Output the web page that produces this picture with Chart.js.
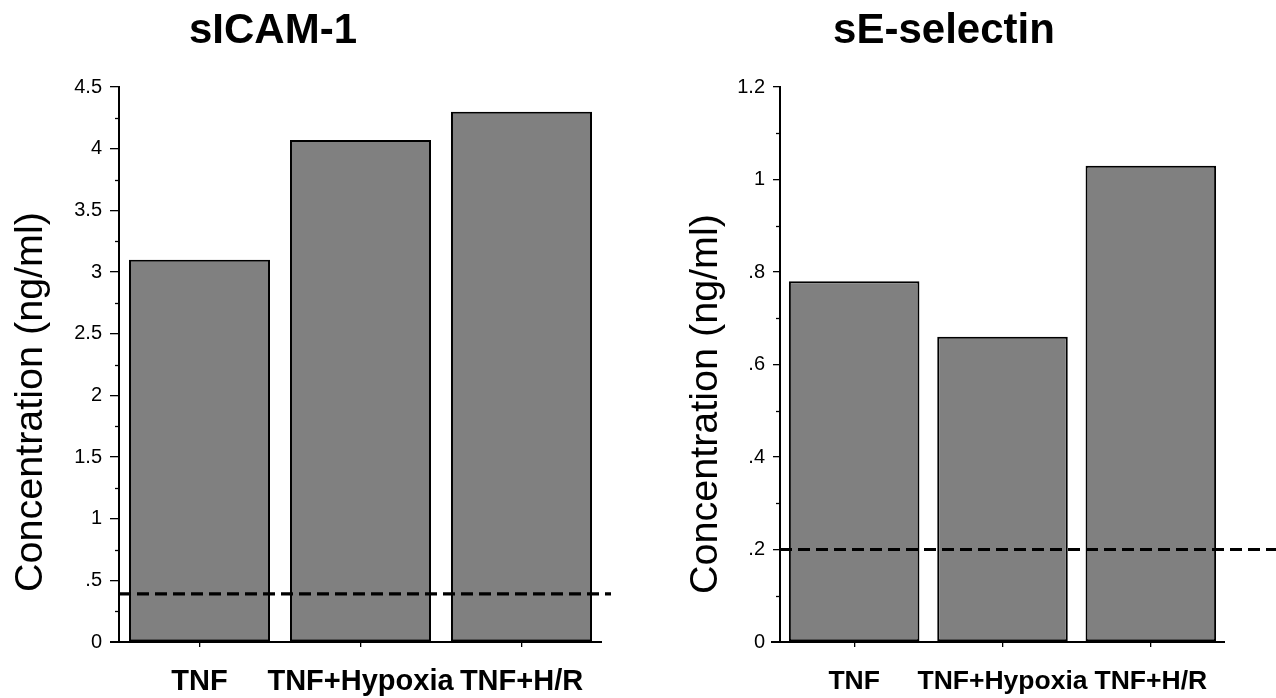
<!DOCTYPE html>
<html><head><meta charset="utf-8">
<script src="https://cdn.jsdelivr.net/npm/chart.js@4.4.1/dist/chart.umd.min.js"></script>
<style>
html,body{margin:0;padding:0;background:#fff;overflow:hidden;}
#wrap{position:relative;width:1276px;height:698px;}
.box{position:absolute;top:0;width:638px;height:698px;}
</style></head><body>
<div id="wrap">
<div class="box" style="left:0"><canvas id="c1"></canvas></div>
<div class="box" style="left:638px"><canvas id="c2"></canvas></div>
</div>
<script>
// ---- data ----
const categories = ['TNF', 'TNF+Hypoxia', 'TNF+H/R'];
const icamTitle = 'sICAM-1';
const icamValues = [3.10, 4.07, 4.30];
const icamThreshold = 0.39;
const icamTickRange = [0, 4.5];
const icamMajorStep = 0.5;
const icamMinorStep = 0.25;

const selectinTitle = 'sE-selectin';
const selectinValues = [0.78, 0.66, 1.03];
const selectinThreshold = 0.2;
const selectinTickRange = [0, 1.2];
const selectinMajorStep = 0.2;
const selectinMinorStep = 0.1;

const yAxisTitle = 'Concentration (ng/ml)';

// ---- helpers ----
const FONT = "'Liberation Sans', Arial, Helvetica, sans-serif";
function isMajor(v, step) { return Math.abs(v / step - Math.round(v / step)) < 1e-6; }
function fmt(v) { return String(parseFloat(v.toFixed(2))).replace(/^0\./, '.'); }

const decor = {
  id: 'decor',
  afterDatasetsDraw(chart, args, o) {
    const { ctx, chartArea: a } = chart;
    const y = chart.scales.y;
    ctx.save();
    ctx.strokeStyle = '#000';
    // minor y ticks
    ctx.lineWidth = 1.3;
    y.ticks.forEach(t => {
      if (!isMajor(t.value, o.major)) {
        const py = Math.round(y.getPixelForValue(t.value)) + 0.5;
        ctx.beginPath(); ctx.moveTo(a.left - o.minorLen, py); ctx.lineTo(a.left, py); ctx.stroke();
      }
    });
    // x axis line (extends left of y axis)
    ctx.lineWidth = 2;
    ctx.beginPath(); ctx.moveTo(a.left - o.xExtend, a.bottom); ctx.lineTo(a.right, a.bottom); ctx.stroke();
    // dashed threshold line
    const ty = y.getPixelForValue(o.threshold);
    ctx.setLineDash([12, 6]); ctx.lineWidth = 3.2;
    ctx.beginPath(); ctx.moveTo(a.left, ty); ctx.lineTo(a.right + o.dashExtend, ty); ctx.stroke();
    ctx.setLineDash([]);
    // chart title
    ctx.fillStyle = '#000';
    ctx.font = 'bold 42px ' + FONT;
    ctx.textAlign = 'center'; ctx.textBaseline = 'alphabetic';
    ctx.fillText(o.title, o.titleX, 43);
    // y axis title
    ctx.translate(o.yTitleX, o.yTitleY);
    ctx.rotate(-Math.PI / 2);
    ctx.font = '39.5px ' + FONT;
    ctx.textBaseline = 'middle';
    ctx.fillText(yAxisTitle, 0, 0);
    ctx.restore();
  }
};

function makeChart(id, c) {
  return new Chart(document.getElementById(id), {
    type: 'bar',
    data: {
      labels: categories,
      datasets: [{
        data: c.values,
        backgroundColor: '#808080',
        borderColor: '#000',
        borderWidth: 2,
        borderSkipped: false,
        categoryPercentage: 1,
        barPercentage: c.barPct
      }]
    },
    options: {
      responsive: true, maintainAspectRatio: false, animation: false,
      layout: { padding: { left: 0, right: c.padRight, top: 87, bottom: 0 } },
      plugins: {
        legend: { display: false }, tooltip: { enabled: false }, title: { display: false },
        decor: {
          major: c.major, minorLen: c.minorLen, xExtend: 9, threshold: c.threshold,
          dashExtend: c.dashExtend, title: c.title, titleX: c.titleX,
          yTitleX: c.yTitleX, yTitleY: c.yTitleY
        }
      },
      scales: {
        x: {
          grid: { display: true, offset: false, drawOnChartArea: false, drawTicks: true, tickLength: 5, color: '#000', lineWidth: 1.3 },
          border: { display: false },
          ticks: { font: { family: FONT, size: c.xFont, weight: 'bold' }, color: '#000', padding: c.xPad, autoSkip: false, maxRotation: 0, minRotation: 0 },
          afterFit(s) { s.height = 56; }
        },
        y: {
          min: c.range[0], max: c.range[1],
          ticks: {
            stepSize: c.minor, autoSkip: false, color: '#000', padding: c.tickPad,
            font: { family: FONT, size: 20 },
            callback: v => isMajor(v, c.major) ? fmt(v) : ''
          },
          grid: {
            drawOnChartArea: false, drawTicks: true, tickLength: c.majorLen, lineWidth: 1.3,
            color: ctx => (ctx.tick && isMajor(ctx.tick.value, c.major)) ? '#000' : 'rgba(0,0,0,0)'
          },
          border: { display: true, color: '#000', width: 2 },
          afterFit(s) { s.width = c.axisWidth; }
        }
      }
    },
    plugins: [decor]
  });
}

makeChart('c1', {
  values: icamValues, threshold: icamThreshold, range: icamTickRange,
  major: icamMajorStep, minor: icamMinorStep, title: icamTitle,
  barPct: 0.876, padRight: 36, axisWidth: 119, majorLen: 9, minorLen: 4, tickPad: 8,
  dashExtend: 9, titleX: 273, yTitleX: 31, yTitleY: 402, xFont: 29, xPad: 18
});
makeChart('c2', {
  values: selectinValues, threshold: selectinThreshold, range: selectinTickRange,
  major: selectinMajorStep, minor: selectinMinorStep, title: selectinTitle,
  barPct: 0.88, padRight: 51, axisWidth: 142, majorLen: 7, minorLen: 4, tickPad: 8,
  dashExtend: 60, titleX: 306, yTitleX: 68, yTitleY: 404, xFont: 26.5, xPad: 19
});
</script>
</body></html>
